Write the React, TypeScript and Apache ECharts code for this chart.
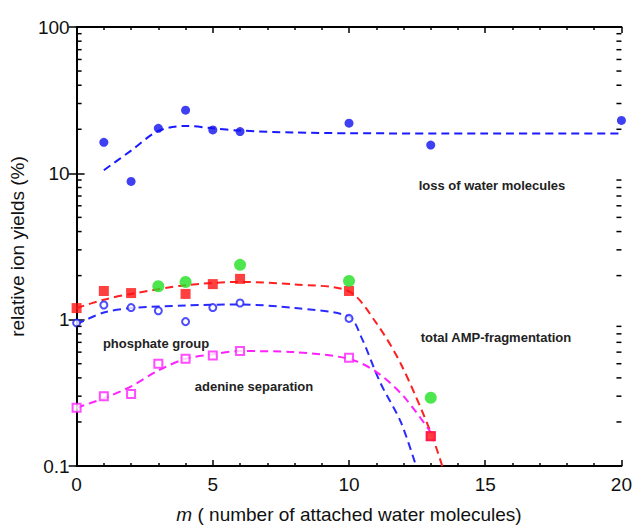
import React, { useEffect, useRef } from "react";
import * as echarts from "echarts";

// loss of water molecules (blue filled circles)
const waterM = [1, 2, 3, 4, 5, 6, 10, 13, 20];
const waterLoss = [16.3, 8.8, 20.3, 27, 19.8, 19.3, 22, 15.6, 23];
const waterFitM = [1, 2, 3, 4, 5, 6, 8, 10, 15, 20];
const waterFit = [10.5, 14.3, 19.5, 21.1, 20.3, 19.6, 19.0, 18.8, 18.7, 18.7];

// total AMP-fragmentation (red filled squares)
const totalM = [0, 1, 2, 4, 5, 6, 10, 13];
const totalFrag = [1.2, 1.57, 1.52, 1.5, 1.75, 1.9, 1.57, 0.16];
const totalFitM = [0, 1, 2, 4, 6, 8, 10, 11, 11.9, 13, 13.5];
const totalFit = [1.2, 1.37, 1.5, 1.72, 1.81, 1.74, 1.56, 0.95, 0.5, 0.17, 0.09];

// green filled circles
const greenM = [3, 4, 6, 10, 13];
const greenVals = [1.69, 1.81, 2.37, 1.84, 0.293];

// phosphate group (blue open circles)
const phosM = [0, 1, 2, 3, 4, 5, 6, 10];
const phosVals = [0.95, 1.26, 1.21, 1.15, 0.97, 1.21, 1.3, 1.02];
const phosFitM = [0, 1, 2, 4, 6, 8, 10, 10.45, 11.15, 11.9, 12.5];
const phosFit = [0.93, 1.12, 1.2, 1.25, 1.27, 1.2, 1.05, 0.76, 0.37, 0.2, 0.095];

// adenine separation (magenta open squares)
const adenM = [0, 1, 2, 3, 4, 5, 6, 10, 13];
const adenVals = [0.25, 0.3, 0.31, 0.5, 0.54, 0.57, 0.61, 0.55, 0.16];
const adenFitM = [0, 1, 2, 3, 4, 5, 6, 8, 10, 11, 12, 13];
const adenFit = [0.25, 0.29, 0.35, 0.45, 0.54, 0.58, 0.61, 0.6, 0.54, 0.44, 0.3, 0.17];

// axis
const yDecades = [0.1, 1, 10];
const yMinorMultipliers = [2, 3, 4, 5, 6, 7, 8, 9];
const xMin = 0;
const xMax = 20;

const zip = (xs: number[], ys: number[]) => xs.map((x, i) => [x, ys[i]]);

const FONT = "Liberation Sans, Arial, sans-serif";
const TXT = "#111";

export default function App() {
  const ref = useRef<HTMLDivElement>(null);
  useEffect(() => {
    document.body.style.margin = "0";
    const chart = echarts.init(ref.current!, undefined, { renderer: "svg" });

    const minorData: number[][] = [];
    yDecades.forEach((d) =>
      yMinorMultipliers.forEach((k) => {
        minorData.push([xMin, d * k]);
        minorData.push([xMax, d * k]);
      })
    );

    const axisLine = { show: true, lineStyle: { color: "#000", width: 2 } };
    const dashed = (color: string) => ({
      type: "line" as const,
      smooth: 0.3,
      symbol: "none",
      lineStyle: { color, width: 2, type: [8, 5] as any },
      z: 2,
    });
    const annot = (text: string, x: number, y: number) => ({
      type: "text",
      x,
      y,
      style: {
        text,
        fill: "#222",
        font: `bold 13px ${FONT}`,
        textAlign: "center",
        textVerticalAlign: "middle",
      },
    });

    const option: any = {
      animation: false,
      backgroundColor: "#fff",
      grid: { left: 74, right: 13, top: 27, bottom: 59 },
      xAxis: [
        {
          type: "value",
          min: xMin,
          max: xMax,
          interval: 5,
          axisLine,
          axisTick: { inside: true, length: 6, lineStyle: { color: "#000", width: 1.5 } },
          minorTick: { show: true, splitNumber: 5, length: 3, lineStyle: { color: "#000", width: 1.5 } },
          splitLine: { show: false },
          axisLabel: { color: TXT, fontSize: 19, fontFamily: FONT, margin: 9 },
          name: "{i|m} ( number of attached water molecules)",
          nameLocation: "middle",
          nameGap: 39,
          nameTextStyle: {
            color: TXT,
            fontSize: 19,
            fontFamily: FONT,
            rich: { i: { fontStyle: "italic", fontSize: 19, fontFamily: FONT, color: TXT } },
          },
        },
        {
          type: "value",
          position: "top",
          min: xMin,
          max: xMax,
          interval: 5,
          axisLine,
          axisTick: { inside: true, length: 6, lineStyle: { color: "#000", width: 1.5 } },
          minorTick: { show: true, splitNumber: 5, length: 3, lineStyle: { color: "#000", width: 1.5 } },
          splitLine: { show: false },
          axisLabel: { show: false },
        },
      ],
      yAxis: [
        {
          type: "log",
          logBase: 10,
          min: 0.1,
          max: 100,
          axisLine,
          axisTick: { inside: true, length: 8, lineStyle: { color: "#000", width: 1.5 } },
          splitLine: { show: false },
          axisLabel: { color: TXT, fontSize: 19, fontFamily: FONT, margin: 7 },
          name: "relative ion yields (%)",
          nameLocation: "middle",
          nameGap: 47,
          nameRotate: 90,
          nameTextStyle: { color: TXT, fontSize: 19, fontFamily: FONT },
        },
        {
          type: "log",
          logBase: 10,
          min: 0.1,
          max: 100,
          position: "right",
          axisLine,
          axisTick: { inside: true, length: 8, lineStyle: { color: "#000", width: 1.5 } },
          splitLine: { show: false },
          axisLabel: { show: false },
        },
      ],
      series: [
        {
          type: "custom",
          coordinateSystem: "cartesian2d",
          clip: false,
          silent: true,
          data: minorData,
          encode: { x: 0, y: 1 },
          renderItem: (_p: any, api: any) => {
            const x = api.value(0);
            const v = api.value(1);
            const c = api.coord([x, v]);
            const dir = x === xMin ? 1 : -1;
            return {
              type: "line",
              shape: { x1: c[0], y1: c[1], x2: c[0] + dir * 5, y2: c[1] },
              style: { stroke: "#000", lineWidth: 1.5 },
            };
          },
          z: 5,
        },
        { ...dashed("#1a1aff"), data: zip(waterFitM, waterFit) },
        { ...dashed("#ff2020"), data: zip(totalFitM, totalFit) },
        { ...dashed("#2a2aff"), data: zip(phosFitM, phosFit) },
        { ...dashed("#ff22ff"), data: zip(adenFitM, adenFit) },
        {
          type: "scatter",
          data: zip(waterM, waterLoss),
          symbol: "circle",
          symbolSize: 9,
          itemStyle: { color: "#1010f0" },
          z: 3,
        },
        {
          type: "scatter",
          data: zip(phosM, phosVals),
          symbol: "circle",
          symbolSize: 7,
          itemStyle: { color: "#fff", borderColor: "#2020ff", borderWidth: 2 },
          z: 3,
        },
        {
          type: "scatter",
          data: zip(adenM, adenVals),
          symbol: "rect",
          symbolSize: 8,
          itemStyle: { color: "#fff", borderColor: "#ff20ff", borderWidth: 2 },
          z: 3,
        },
        {
          type: "scatter",
          data: zip(totalM, totalFrag),
          symbol: "rect",
          symbolSize: 10,
          itemStyle: { color: "#ff1010" },
          z: 4,
        },
        {
          type: "scatter",
          data: zip(greenM, greenVals),
          symbol: "circle",
          symbolSize: 12,
          itemStyle: { color: "#22e022" },
          z: 4,
        },
      ],
      graphic: [
        annot("loss of water molecules", 492, 185),
        annot("total AMP-fragmentation", 496, 337),
        annot("phosphate group", 156, 343),
        annot("adenine separation", 254, 386),
      ],
    };
    chart.setOption(option);
    return () => chart.dispose();
  }, []);
  return <div ref={ref} style={{ width: 635, height: 529 }} />;
}
